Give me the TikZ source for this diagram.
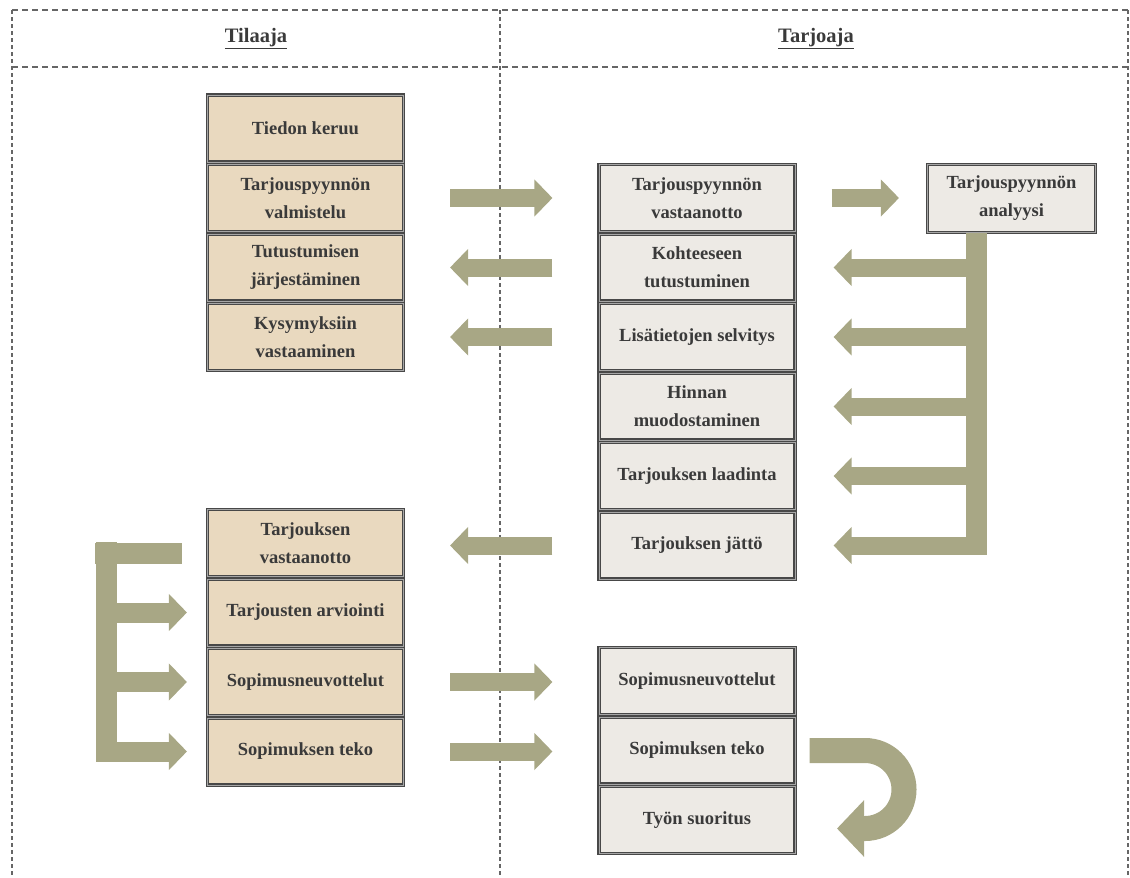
\documentclass[tikz,border=0pt]{standalone}
\usepackage{fontspec}
\setmainfont{Liberation Serif}
\usetikzlibrary{arrows.meta}

\definecolor{tilfill}{HTML}{E9D9BF}
\definecolor{tarfill}{HTML}{EDEAE5}
\definecolor{nuolivari}{HTML}{A8A785}
\definecolor{teksti}{HTML}{3A3A3A}
\definecolor{raja}{HTML}{484848}

\begin{document}
\begin{tikzpicture}[x=1pt, y=-1pt,
  vaihe/.style={draw=raja, double=black!35, line width=1.1pt, double distance=0.9pt,
    minimum width=196pt, minimum height=67pt, inner sep=0pt, align=center,
    text=teksti, font=\fontsize{18.5}{28}\selectfont\bfseries},
  tilaaja/.style={vaihe, fill=tilfill},
  tarjoaja/.style={vaihe, fill=tarfill},
  otsikko/.style={text=teksti, font=\fontsize{20.5}{24}\selectfont\bfseries},
  kehys/.style={gray!80!black, line width=1.1pt, dash pattern=on 6pt off 4pt},
  jako/.style={gray!80!black, line width=1.1pt, dash pattern=on 3.5pt off 3.5pt},
  blocknuoli/.style={draw=nuolivari, line width=18pt, -{Triangle[length=18pt, width=36pt]}},
  palkki/.style={draw=nuolivari, line width=21pt}
]
  \useasboundingbox (0,0) rectangle (1130,878);

  % kehys ja otsikot
  \draw[kehys] (12,10) -- (1128,10);
  \draw[kehys] (12,67) -- (1128,67);
  \draw[jako] (12,10) -- (12,878);
  \draw[jako] (500,10) -- (500,878);
  \draw[jako] (1128,10) -- (1128,878);
  \node[otsikko] (htil) at (256,39) {\underline{Tilaaja}};
  \node[otsikko] (htar) at (816,39) {\underline{Tarjoaja}};

  % tilaajan vaiheet
  \node[tilaaja] (tieto) at (305.5,128.5) {Tiedon keruu};
  \node[tilaaja] (valm) at (305.5,198) {Tarjouspyynnön\\valmistelu};
  \node[tilaaja] (tutj) at (305.5,267.5) {Tutustumisen\\järjestäminen};
  \node[tilaaja] (kysv) at (305.5,337) {Kysymyksiin\\vastaaminen};
  \node[tilaaja] (tvast) at (305.5,543) {Tarjouksen\\vastaanotto};
  \node[tilaaja] (arvi) at (305.5,612.5) {Tarjousten arviointi};
  \node[tilaaja] (neuvl) at (305.5,682) {Sopimusneuvottelut};
  \node[tilaaja] (tekol) at (305.5,751.5) {Sopimuksen teko};

  % tarjoajan vaiheet
  \node[tarjoaja] (pvast) at (697,198) {Tarjouspyynnön\\vastaanotto};
  \node[tarjoaja] (koht) at (697,267.5) {Kohteeseen\\tutustuminen};
  \node[tarjoaja] (lisa) at (697,337) {Lisätietojen selvitys};
  \node[tarjoaja] (hinta) at (697,406.5) {Hinnan\\muodostaminen};
  \node[tarjoaja] (laad) at (697,476) {Tarjouksen laadinta};
  \node[tarjoaja] (jatto) at (697,545.5) {Tarjouksen jättö};
  \node[tarjoaja] (neuvr) at (697,681) {Sopimusneuvottelut};
  \node[tarjoaja] (tekor) at (697,750.5) {Sopimuksen teko};
  \node[tarjoaja] (suor) at (697,820) {Työn suoritus};
  \node[tarjoaja, minimum width=168pt, minimum height=68pt] (anal) at (1011.5,198.5) {Tarjouspyynnön\\analyysi};

  % nuolet sarakkeiden valilla
  \draw[blocknuoli, shorten <=46pt, shorten >=46pt] (valm.east) -- (pvast.west);
  \draw[blocknuoli, shorten <=46pt, shorten >=46pt] (koht.west) -- (koht.west -| tutj.east);
  \draw[blocknuoli, shorten <=46pt, shorten >=46pt] (lisa.west) -- (lisa.west -| kysv.east);
  \draw[blocknuoli, shorten <=46pt, shorten >=46pt] (jatto.west) -- (jatto.west -| tvast.east);
  \draw[blocknuoli, shorten <=46pt, shorten >=46pt] (neuvl.east) -- (neuvl.east -| neuvr.west);
  \draw[blocknuoli, shorten <=46pt, shorten >=46pt] (tekol.east) -- (tekol.east -| tekor.west);
  \draw[blocknuoli, shorten <=36pt, shorten >=28pt] (pvast.east) -- (pvast.east -| anal.west);

  % analyysin haarat
  \coordinate (haara) at (976,0);
  \draw[palkki] (anal.south -| haara) -- ([yshift=-9pt]jatto.east -| haara);
  \foreach \v in {koht, lisa, hinta, laad, jatto}
    \draw[blocknuoli, shorten >=38pt] (\v.east -| haara) -- (\v.east);

  % tilaajan haarat
  \coordinate (runko) at (106,0);
  \draw[palkki] (95,553) -- (182,553);
  \draw[palkki] (106,542) -- ([yshift=-10pt]tekol.west -| runko);
  \foreach \v in {arvi, neuvl, tekol}
    \draw[blocknuoli, line width=20pt, shorten >=20pt] (\v.west -| runko) -- (\v.west);

  % kaantyva nuoli
  \draw[draw=nuolivari, line width=25pt, -{Triangle[length=27pt, width=55pt]}]
    ([xshift=14pt]tekor.east) -- (tekor.east -| 865,0) arc[start angle=-90, end angle=90, radius=39] -- ++(-28,0);
\end{tikzpicture}
\end{document}
